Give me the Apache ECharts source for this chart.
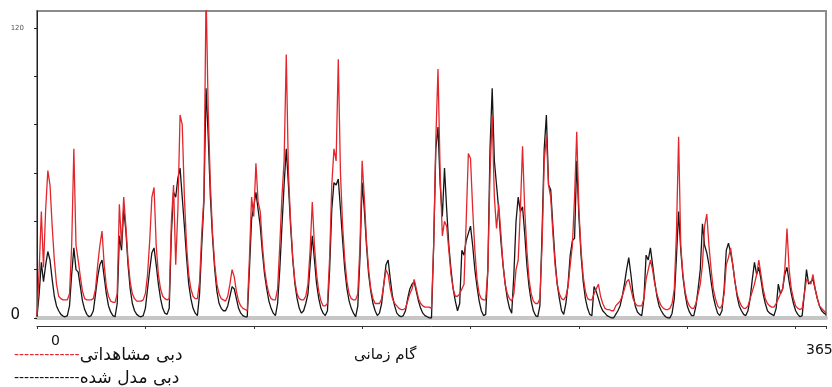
<!DOCTYPE html>
<html>
<head>
<meta charset="utf-8">
<script src="https://cdn.jsdelivr.net/npm/echarts@6/dist/echarts.min.js"></script>
<style>
  html, body { margin: 0; padding: 0; background: #ffffff; }
  #chart { width: 832px; height: 387px; }
</style>
</head>
<body>
<div id="chart"></div>
<script>
// Daily discharge over one hydrological year (time steps 0..364)
const seriesNames = ['دبی مشاهداتی', 'دبی مدل شده'];

// Observed discharge
const observed = [
  1, 20, 44, 21, 45, 61, 55, 38, 24, 14,
  9, 8, 7.5, 7.5, 7.5, 10, 30, 70, 30, 24,
  17, 11, 8, 7.5, 7.5, 7.5, 8, 12, 22, 30,
  36, 22, 13, 9, 7, 6.5, 6.5, 10, 47, 30,
  50, 38, 24, 15, 10, 8, 7, 7, 7, 7.5,
  10, 18, 32, 50, 54, 30, 18, 12, 9, 8,
  7.5, 8, 40, 55, 22, 45, 84, 80, 50, 30,
  18, 12, 9, 8, 8, 15, 35, 50, 135, 85,
  55, 35, 22, 14, 10, 8, 7.5, 7, 9, 14,
  20, 17, 11, 7, 5, 4, 3.5, 3, 25, 50,
  42, 64, 48, 44, 30, 20, 14, 10, 8, 7.5,
  7.5, 12, 30, 50, 65, 109, 60, 40, 25, 15,
  10, 8, 7.5, 7.5, 9, 14, 28, 48, 30, 18,
  11, 7, 5, 5, 6, 25, 55, 70, 65, 107,
  60, 38, 24, 15, 10, 8, 7.5, 7.5, 10, 30,
  65, 50, 32, 20, 12, 8, 6, 6, 6, 8,
  14, 20, 18, 12, 8, 6, 5, 4, 3.5, 3.5,
  4, 7, 10, 12, 16, 12, 8, 6, 5, 4.5,
  4.5, 4.5, 4, 30, 74, 103, 60, 34, 40, 38,
  28, 18, 12, 9, 9, 10, 12, 14, 40, 68,
  66, 45, 28, 16, 10, 8, 7.5, 7.5, 20, 60,
  84, 50, 37, 47, 35, 22, 14, 10, 8, 7,
  10, 20, 24, 45, 71, 45, 28, 16, 10, 7,
  6, 6, 8, 30, 65, 75, 55, 50, 35, 22,
  14, 10, 8, 7.5, 9, 13, 22, 30, 50, 77,
  45, 28, 17, 11, 8, 7.5, 7.5, 10, 12, 14,
  9, 6, 4, 3.5, 3.5, 3, 3, 5, 6, 7,
  9, 12, 15, 16, 12, 8, 6, 5, 5, 5,
  8, 16, 20, 24, 20, 14, 10, 7, 5, 4,
  3.5, 3.5, 4, 6, 12, 35, 75, 30, 18, 11,
  7, 5, 4, 4, 6, 10, 14, 22, 38, 43,
  30, 20, 12, 8, 5, 4, 5, 10, 22, 25,
  29, 22, 15, 10, 7, 5, 4, 4, 5, 8,
  11, 14, 18, 24, 18, 12, 8, 6, 5, 4.5,
  4.5, 6, 8, 10, 12, 20, 37, 20, 12, 8,
  5, 4, 3.5, 4, 10, 16, 15, 14, 18, 12,
  8, 5, 4, 3, 2
];

// Modelled discharge
const modeled = [
  0.5, 10, 23, 15, 22, 27.5, 24, 16, 9, 5,
  3, 1.5, 0.8, 0.5, 1, 5, 18, 29, 20, 19,
  13, 7, 3.5, 1.5, 0.5, 1, 3, 10, 17, 22,
  24, 17, 10, 5, 2.5, 1, 0.5, 6, 34, 28,
  45, 36, 22, 12, 6, 3, 1.5, 0.8, 0.5, 1,
  4, 12, 20, 27, 29, 22, 14, 8, 4, 2,
  1.5, 4, 35, 52, 50, 58, 62, 50, 38, 25,
  14, 8, 4, 2, 1, 10, 30, 48, 95, 75,
  50, 33, 20, 11, 6, 4, 3, 3, 5, 9,
  13, 12, 8, 4, 2, 1, 0.5, 0.5, 20, 41,
  46, 52, 45, 38, 27, 18, 12, 7, 4, 2,
  1, 6, 20, 38, 55, 70, 55, 38, 24, 14,
  8, 4, 2, 3, 6, 10, 22, 34, 24, 14,
  8, 4, 2, 1, 3, 20, 45, 56, 55, 57.5,
  45, 32, 20, 12, 7, 4, 2, 0.5, 5, 25,
  56, 45, 30, 18, 11, 6, 3, 1, 2, 6,
  14, 22, 24, 16, 9, 5, 2, 1, 0.5, 1,
  3, 8, 12, 14, 15, 11, 7, 4, 2, 1,
  0.5, 0, 0, 30, 70, 79, 55, 42, 62, 45,
  30, 20, 12, 7, 3, 6, 28, 26, 32, 35,
  38, 30, 20, 13, 7, 3, 1, 1.5, 20, 70,
  95, 65, 55, 45, 32, 22, 14, 8, 4, 2,
  18, 40, 50, 44, 46, 35, 22, 13, 7, 3,
  1, 0.5, 5, 35, 70, 84, 55, 53, 38, 24,
  14, 8, 3, 1.5, 6, 14, 26, 32, 33, 65,
  42, 26, 15, 8, 4, 1.5, 1, 13, 11, 8,
  5, 3, 2, 1, 0.5, 0, 0, 1.5, 3, 5,
  9, 14, 20, 25, 18, 10, 5, 2.5, 1.5, 1,
  8, 26, 24, 29, 22, 15, 9, 5, 3, 1.5,
  0.5, 0, 0, 2, 8, 25, 44, 28, 17, 10,
  5, 2.5, 1, 1, 5, 12, 20, 39, 30, 27,
  22, 15, 9, 5, 2, 1, 3, 12, 28, 31,
  27, 22, 15, 9, 5, 3, 1.5, 1, 3, 8,
  16, 23, 18, 21, 16, 10, 6, 3, 2, 1.5,
  1, 4, 14, 10, 12, 18, 21, 15, 10, 6,
  3, 1.5, 0.5, 1, 10, 20, 14, 15, 16, 12,
  8, 5, 3, 2, 1.5
];

// Y-axis tick values and the ones that carry a label
const yTickValues = [0, 20, 40, 60, 80, 100, 120];
const yLabelValues = [0, 120];
const xLabels = ['0', '365'];
const xAxisTitle = 'گام زمانی';
const seriesColors = ['#e3262b', '#151515'];

const steps = observed.map((_, i) => i);
const toPairs = arr => arr.map((v, i) => [steps[i], v]);

const chart = echarts.init(document.getElementById('chart'), null, { renderer: 'canvas' });

const dashes = '-'.repeat(13);

// One legend per series so each sits on its own row at the bottom-left
const legendFor = (idx, top) => ({
  orient: 'horizontal',
  left: 9,
  top: top,
  padding: 0,
  icon: 'none',
  itemWidth: 0,
  itemHeight: 0,
  data: [seriesNames[idx]],
  formatter: name => '{d' + idx + '|' + dashes + '}{t|' + name + '}',
  textStyle: {
    fontFamily: 'DejaVu Sans',
    rich: {
      d0: { color: seriesColors[0], fontSize: 14, fontFamily: 'DejaVu Sans' },
      d1: { color: seriesColors[1], fontSize: 14, fontFamily: 'DejaVu Sans' },
      t: { color: '#111111', fontSize: 17, fontFamily: 'DejaVu Sans' }
    }
  }
});

chart.setOption({
  animation: false,
  backgroundColor: '#ffffff',
  textStyle: { fontFamily: 'DejaVu Sans' },
  grid: {
    left: 37, right: 6, top: 11, bottom: 69,
    show: true, borderColor: '#8c8c8c', borderWidth: 2, backgroundColor: 'transparent'
  },
  legend: [legendFor(0, 347), legendFor(1, 370)],
  xAxis: [
    {
      type: 'value', min: 0, max: steps.length - 1,
      position: 'bottom', offset: 2,
      axisLine: { show: true, lineStyle: { color: '#c6c6c6', width: 4 } },
      axisTick: { show: false }, axisLabel: { show: false }, splitLine: { show: false }
    },
    {
      type: 'value', min: 0, max: steps.length - 1, interval: 50,
      position: 'bottom', offset: 8,
      axisLine: { show: true, lineStyle: { color: '#333333', width: 1 } },
      axisTick: { show: true, length: 3, lineStyle: { color: '#333333' } },
      axisLabel: { show: false }, splitLine: { show: false }
    }
  ],
  yAxis: {
    type: 'value', min: 0, max: 127, interval: 20,
    position: 'left', offset: 7,
    axisLine: { show: true, lineStyle: { color: '#222222', width: 1 } },
    axisTick: { show: true, length: 3, customValues: yTickValues, lineStyle: { color: '#222222' } },
    splitLine: { show: false },
    axisLabel: {
      customValues: yLabelValues,
      margin: 6,
      formatter: v => v === 0 ? '{a|0}' : '{b|' + v + '}',
      rich: {
        a: { fontSize: 15, color: '#111111', fontFamily: 'DejaVu Sans', padding: [0, 4, 6, 0] },
        b: { fontSize: 7, color: '#555555', fontFamily: 'DejaVu Sans' }
      }
    }
  },
  graphic: [
    { type: 'text', left: 51, top: 334, style: { text: xLabels[0], fontSize: 14, fill: '#111111', fontFamily: 'DejaVu Sans' } },
    { type: 'text', left: 806, top: 343, style: { text: xLabels[1], fontSize: 14, fill: '#111111', fontFamily: 'DejaVu Sans' } },
    { type: 'text', left: 354, top: 348, style: { text: xAxisTitle, fontSize: 15, fill: '#111111', fontFamily: 'DejaVu Sans' } }
  ],
  series: [
    {
      name: seriesNames[1], type: 'line', xAxisIndex: 0,
      data: toPairs(modeled), showSymbol: false, symbol: 'none',
      lineStyle: { color: seriesColors[1], width: 1.3 }, itemStyle: { color: seriesColors[1] },
      clip: true, z: 2
    },
    {
      name: seriesNames[0], type: 'line', xAxisIndex: 0,
      data: toPairs(observed), showSymbol: false, symbol: 'none',
      lineStyle: { color: seriesColors[0], width: 1.3 }, itemStyle: { color: seriesColors[0] },
      clip: true, z: 3
    }
  ]
});
</script>
</body>
</html>
